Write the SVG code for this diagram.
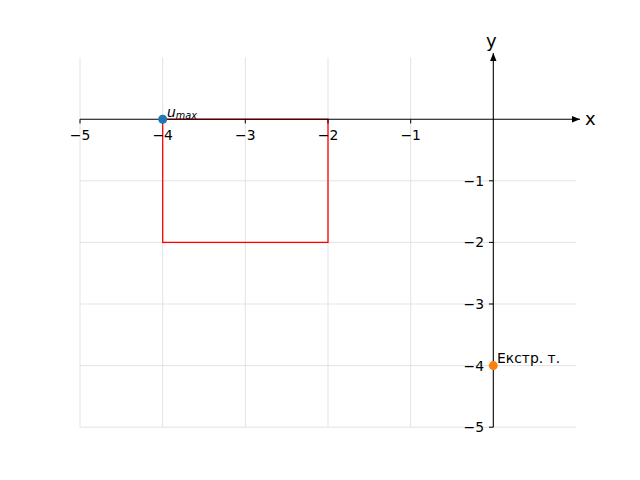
<svg xmlns="http://www.w3.org/2000/svg" width="640" height="480" viewBox="0 0 640 480">
<style>
.grid{stroke:#e3e3e3;stroke-width:1;fill:none}
.ax{stroke:#000;stroke-width:1.1;fill:none}
.tk{stroke:#000;stroke-width:1}
.lbl{font-family:"DejaVu Sans",sans-serif;font-size:13.9px;fill:#000}
</style>
<defs>
<marker id="arr" viewBox="0 0 10 10" refX="10" refY="5" markerWidth="8" markerHeight="8" markerUnits="userSpaceOnUse" orient="auto">
<path d="M0,1 L10,5 L0,9 Z" fill="#000"/>
</marker>
</defs>
<rect width="640" height="480" fill="#fff"/>
<g id="grid">
<line class="grid" x1="80" y1="57.6" x2="80" y2="427.2"/>
<line class="grid" x1="162.7" y1="57.6" x2="162.7" y2="427.2"/>
<line class="grid" x1="245.3" y1="57.6" x2="245.3" y2="427.2"/>
<line class="grid" x1="328" y1="57.6" x2="328" y2="427.2"/>
<line class="grid" x1="410.7" y1="57.6" x2="410.7" y2="427.2"/>
<line class="grid" x1="80" y1="180.8" x2="576" y2="180.8"/>
<line class="grid" x1="80" y1="242.4" x2="576" y2="242.4"/>
<line class="grid" x1="80" y1="304" x2="576" y2="304"/>
<line class="grid" x1="80" y1="365.6" x2="576" y2="365.6"/>
<line class="grid" x1="80" y1="427.2" x2="576" y2="427.2"/>
</g>
<g id="rect">
<rect x="162.7" y="119.2" width="165.3" height="123.2" fill="none" stroke="#ff0000" stroke-width="1.3"/>
</g>
<g id="connectors">
<line class="ax" x1="80" y1="119.2" x2="580" y2="119.2" marker-end="url(#arr)"/>
<line class="ax" x1="493.3" y1="427.2" x2="493.3" y2="53" marker-end="url(#arr)"/>
</g>
<g id="xticks">
<line class="tk" x1="80" y1="119.2" x2="80" y2="123.5"/>
<line class="tk" x1="162.7" y1="119.2" x2="162.7" y2="123.5"/>
<line class="tk" x1="245.3" y1="119.2" x2="245.3" y2="123.5"/>
<line class="tk" x1="328" y1="119.2" x2="328" y2="123.5"/>
<line class="tk" x1="410.7" y1="119.2" x2="410.7" y2="123.5"/>
<text class="lbl" x="80" y="140" text-anchor="middle">−5</text>
<text class="lbl" x="162.7" y="140" text-anchor="middle">−4</text>
<text class="lbl" x="245.3" y="140" text-anchor="middle">−3</text>
<text class="lbl" x="328" y="140" text-anchor="middle">−2</text>
<text class="lbl" x="410.7" y="140" text-anchor="middle">−1</text>
</g>
<g id="yticks">
<line class="tk" x1="489" y1="180.8" x2="493.3" y2="180.8"/>
<line class="tk" x1="489" y1="242.4" x2="493.3" y2="242.4"/>
<line class="tk" x1="489" y1="304" x2="493.3" y2="304"/>
<line class="tk" x1="489" y1="365.6" x2="493.3" y2="365.6"/>
<line class="tk" x1="489" y1="427.2" x2="493.3" y2="427.2"/>
<text class="lbl" x="484" y="185.8" text-anchor="end">−1</text>
<text class="lbl" x="484" y="247.4" text-anchor="end">−2</text>
<text class="lbl" x="484" y="309" text-anchor="end">−3</text>
<text class="lbl" x="484" y="370.6" text-anchor="end">−4</text>
<text class="lbl" x="484" y="432.2" text-anchor="end">−5</text>
</g>
<g id="axis-labels">
<text x="585" y="125" font-family="DejaVu Sans, sans-serif" font-size="18px">x</text>
<text x="486" y="47" font-family="DejaVu Sans, sans-serif" font-size="18px">y</text>
</g>
<g id="umax">
<circle cx="162.7" cy="119.2" r="4.5" fill="#1f77b4"/>
<text x="167" y="117" font-family="DejaVu Sans, sans-serif" font-size="13.9px" font-style="italic">u<tspan font-size="9.7px" dy="2">max</tspan></text>
</g>
<g id="extr">
<circle cx="493.3" cy="365.6" r="4.5" fill="#ff7f0e"/>
<text x="497" y="363" font-family="DejaVu Sans, sans-serif" font-size="13.9px">Екстр. т.</text>
</g>
</svg>
